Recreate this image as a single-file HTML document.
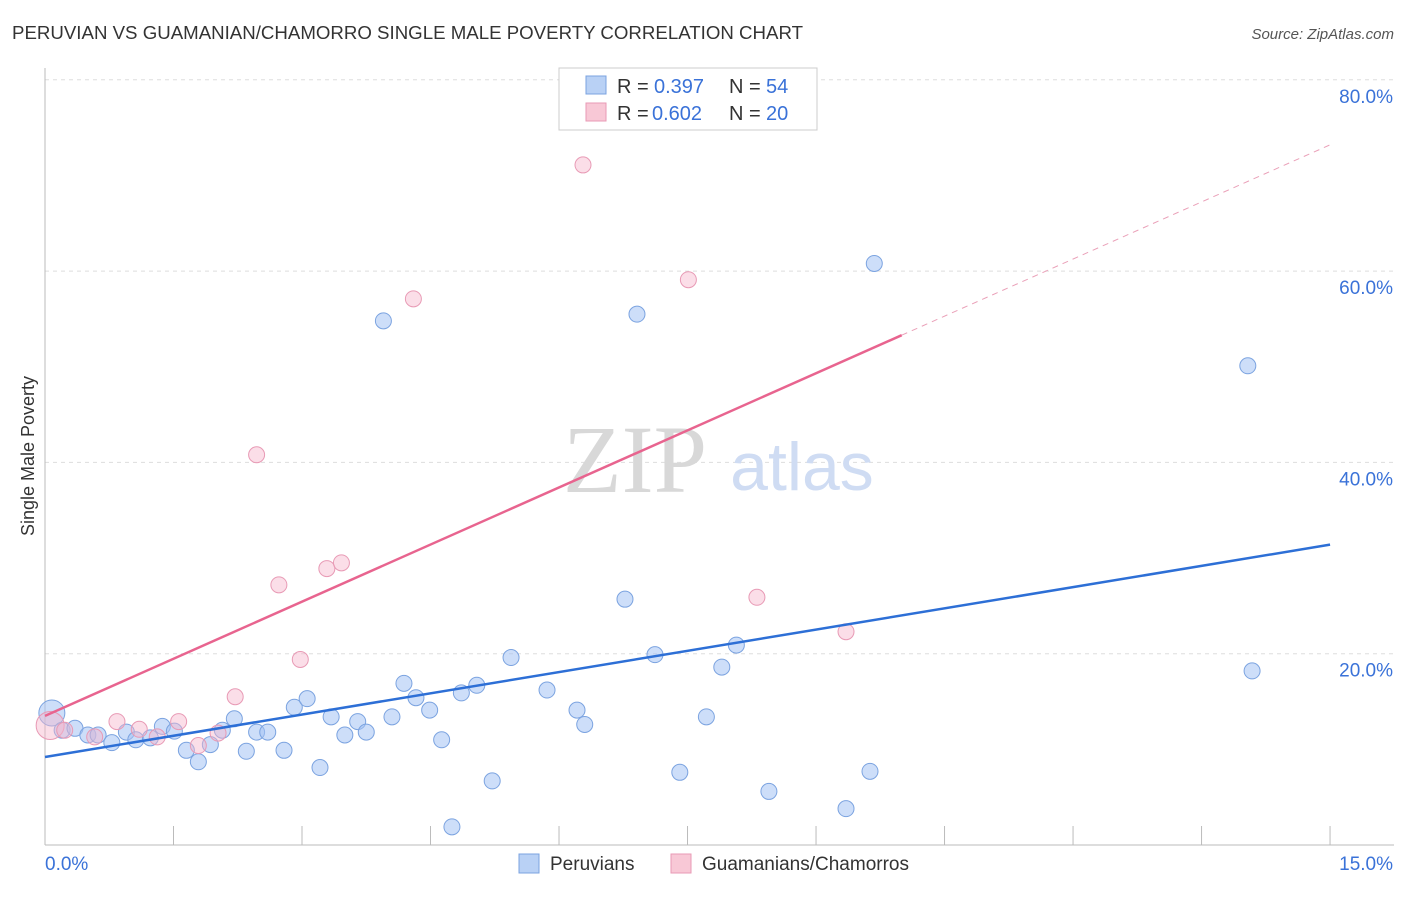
<!DOCTYPE html>
<html><head><meta charset="utf-8"><style>
body{margin:0;background:#fff;font-family:"Liberation Sans",sans-serif;}
</style></head><body>
<svg id="chart" width="1406" height="892" font-family="Liberation Sans, sans-serif">
<text x="12" y="39" font-size="18" fill="#333" textLength="791" lengthAdjust="spacingAndGlyphs">PERUVIAN VS GUAMANIAN/CHAMORRO SINGLE MALE POVERTY CORRELATION CHART</text>
<text x="1394" y="39" font-size="15" fill="#555" font-style="italic" text-anchor="end">Source: ZipAtlas.com</text>
<text x="34" y="456" font-size="18" fill="#333" text-anchor="middle" transform="rotate(-90 34 456)">Single Male Poverty</text>
<g id="grid"></g>
<text x="635" y="492" font-size="96" fill="#d8d8d8" style="font-family:'Liberation Serif',serif" text-anchor="middle">ZIP</text>
<text x="802" y="490" font-size="68" fill="#cfdcf3" text-anchor="middle">atlas</text>
<g id="marks"></g>
<g>
<rect x="559" y="68" width="258" height="62" fill="#fff" stroke="#ccc"/>
<rect x="586" y="76" width="20" height="18" fill="#b9d1f5" stroke="#7ba3e0"/>
<text x="617" y="93" font-size="20" fill="#333">R =</text>
<text x="654" y="93" font-size="20" fill="#3a72d8">0.397</text>
<text x="729" y="93" font-size="20" fill="#333">N =</text>
<text x="766" y="93" font-size="20" fill="#3a72d8">54</text>
<rect x="586" y="103" width="20" height="18" fill="#f8c8d6" stroke="#e89ab5"/>
<text x="617" y="120" font-size="20" fill="#333">R =</text>
<text x="652" y="120" font-size="20" fill="#3a72d8">0.602</text>
<text x="729" y="120" font-size="20" fill="#333">N =</text>
<text x="766" y="120" font-size="20" fill="#3a72d8">20</text>
</g>
<g>
<rect x="519" y="854" width="20" height="19" fill="#b9d1f5" stroke="#7ba3e0"/>
<text x="550" y="870" font-size="19" fill="#333">Peruvians</text>
<rect x="671" y="854" width="20" height="19" fill="#f8c8d6" stroke="#e89ab5"/>
<text x="702" y="870" font-size="19" fill="#333">Guamanians/Chamorros</text>
</g>
</svg>
<script>
const blueX=[0.08,0.20,0.35,0.50,0.62,0.78,0.95,1.06,1.23,1.37,1.51,1.65,1.79,1.93,2.07,2.21,2.35,2.47,2.60,2.79,2.91,3.06,3.21,3.34,3.50,3.65,3.75,3.95,4.05,4.19,4.33,4.49,4.63,4.75,4.86,5.04,5.22,5.44,5.86,6.21,6.30,6.77,6.91,7.12,7.41,7.72,7.90,8.07,8.45,9.35,9.63,9.68,14.04,14.09];
const blueY=[13.8,12.0,12.2,11.5,11.5,10.7,11.8,11.0,11.2,12.4,11.9,9.9,8.7,10.5,12.0,13.2,9.8,11.8,11.8,9.9,14.4,15.3,8.1,13.4,11.5,12.9,11.8,54.8,13.4,16.9,15.4,14.1,11.0,1.9,15.9,16.7,6.7,19.6,16.2,14.1,12.6,25.7,55.5,19.9,7.6,13.4,18.6,20.9,5.6,3.8,7.7,60.8,50.1,18.2];
const pinkX=[0.06,0.23,0.58,0.84,1.10,1.31,1.56,1.79,2.02,2.22,2.47,2.73,2.98,3.29,3.46,4.30,6.28,7.51,8.31,9.35];
const pinkY=[12.5,12.0,11.3,12.9,12.1,11.3,12.9,10.4,11.7,15.5,40.8,27.2,19.4,28.9,29.5,57.1,71.1,59.1,25.9,22.3];
const blueLine=[9.2,31.4];
const pinkLine=[13.5,73.2];
const yTicks=[20,40,60,80];
const xTicks=[0,1.5,3,4.5,6,7.5,9,10.5,12,13.5,15];
const NS='http://www.w3.org/2000/svg';
const X=v=>45+v*85.67, Y=v=>845-v*9.565;
function mk(t,a,p){const e=document.createElementNS(NS,t);for(const k in a)e.setAttribute(k,a[k]);p.appendChild(e);return e;}
const g=document.getElementById('grid'), m=document.getElementById('marks');
for(const t of yTicks){
 const l=mk('line',{x1:45,x2:1394,y1:Y(t),y2:Y(t),stroke:'#ddd','stroke-dasharray':'4,4'},g);
 
 
 const tx=mk('text',{x:1393,y:Y(t)+23,'font-size':19,fill:'#3a72d8','text-anchor':'end'},g);tx.textContent=t.toFixed(1)+'%';
 
 
}
mk('line',{x1:45,x2:45,y1:68,y2:845,stroke:'#bbb'},g);
mk('line',{x1:45,x2:1394,y1:845,y2:845,stroke:'#bbb'},g);
for(const t of xTicks){const l=mk('line',{x1:X(t),x2:X(t),y1:826,y2:845,stroke:'#bbb'},g);
 
 }
let a=mk('text',{x:45,y:870,'font-size':19,fill:'#3a72d8'},g);a.textContent='0.0%';


a=mk('text',{x:1393,y:870,'font-size':19,fill:'#3a72d8','text-anchor':'end'},g);a.textContent='15.0%';


blueX.forEach((x,i)=>{const c=mk('circle',{cx:X(x),cy:Y(blueY[i]),r:i==0?13:8,fill:'rgba(164,194,244,0.55)',stroke:'#7ba3e0','stroke-width':1},m);
 
 });
pinkX.forEach((x,i)=>{const c=mk('circle',{cx:X(x),cy:Y(pinkY[i]),r:i==0?14:8,fill:'rgba(246,182,203,0.45)',stroke:'#e89ab5','stroke-width':1},m);
 
 });
let L=mk('line',{x1:X(0),y1:Y(blueLine[0]),x2:X(15),y2:Y(blueLine[1]),stroke:'#2d6fd6','stroke-width':2.5},m);


const pAt=x=>pinkLine[0]+(pinkLine[1]-pinkLine[0])*x/15;
L=mk('line',{x1:X(0),y1:Y(pAt(0)),x2:X(10),y2:Y(pAt(10)),stroke:'#e8648f','stroke-width':2.5},m);


L=mk('line',{x1:X(10),y1:Y(pAt(10)),x2:X(15),y2:Y(pAt(15)),stroke:'#eaa0b8','stroke-width':1,'stroke-dasharray':'6,5'},m);


</script>
</body></html>
